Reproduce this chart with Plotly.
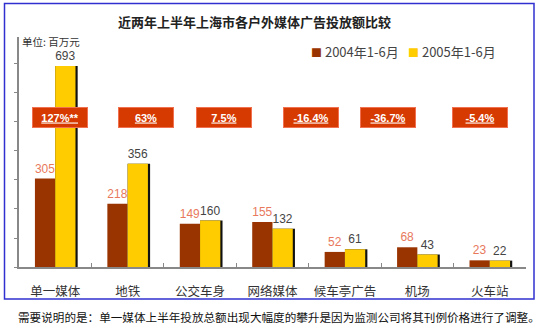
import plotly.graph_objects as go

categories = ["单一媒体", "地铁", "公交车身", "网络媒体", "候车亭广告", "机场", "火车站"]
series_names = ["2004年1-6月", "2005年1-6月"]
values_2004 = [305, 218, 149, 155, 52, 68, 23]
values_2005 = [693, 356, 160, 132, 61, 43, 22]
change_labels = ["127%**", "63%", "7.5%", "-16.4%", "-36.7%", "-5.4%"]
change_pos = [0.06, 1.25, 2.33, 3.53, 4.60, 5.87]

title = "近两年上半年上海市各户外媒体广告投放额比较"
unit = "单位: 百万元"
note = "需要说明的是：单一媒体上半年投放总额出现大幅度的攀升是因为监测公司将其刊例价格进行了调整。"

W, H = 547, 328
L, R, T, B = 19, 21, 37, 61
PW, PH = W - L - R, H - T - B
FONT = "Noto Sans CJK SC"
C04, C05 = "#993300", "#FFCC00"

def px(x):
    return (x - L) / PW

def py(y):
    return (H - B - y) / PH

fig = go.Figure()
fig.add_bar(x=categories, y=values_2004, offset=-0.28, width=0.28,
            marker=dict(color=C04, line=dict(width=0)),
            text=values_2004, textposition="outside", cliponaxis=False,
            textfont=dict(color="#E8795C", size=12, family="Liberation Sans"),
            showlegend=False, hoverinfo="skip")
fig.add_bar(x=categories, y=values_2005, offset=0.0, width=0.31,
            marker=dict(color="#111111", line=dict(width=0)),
            showlegend=False, hoverinfo="skip")
fig.add_bar(x=categories, y=values_2005, offset=0.0, width=0.28,
            marker=dict(color=C05, line=dict(width=0)),
            text=values_2005, textposition="outside", cliponaxis=False,
            textfont=dict(color="#444444", size=12, family="Liberation Sans"),
            showlegend=False, hoverinfo="skip")

annotations = []
for lab, pos in zip(change_labels, change_pos):
    annotations.append(dict(x=pos, y=py(118), xref="x", yref="paper",
                            text="<b><u>%s</u></b>" % lab, showarrow=False,
                            font=dict(color="white", size=11, family="Liberation Sans"),
                            bgcolor="#D63A00", width=52, height=17,
                            bordercolor="#F07050", borderwidth=1,
                            xanchor="center", yanchor="middle"))

annotations += [
    dict(x=px(254), y=py(22), xref="paper", yref="paper", text="<b>%s</b>" % title,
         showarrow=False, font=dict(size=13, color="#222222", family=FONT),
         xanchor="center", yanchor="middle"),
    dict(x=px(20), y=py(41), xref="paper", yref="paper", text=unit,
         showarrow=False, font=dict(size=10.5, color="#333333", family=FONT),
         xanchor="left", yanchor="middle"),
    dict(x=px(309), y=py(51), xref="paper", yref="paper",
         text="<span style='color:%s;font-size:11px'>■</span> %s" % (C04, series_names[0]),
         showarrow=False, font=dict(size=13, color="#444444", family=FONT),
         xanchor="left", yanchor="middle"),
    dict(x=px(406), y=py(51), xref="paper", yref="paper",
         text="<span style='color:%s;font-size:11px'>■</span> %s" % (C05, series_names[1]),
         showarrow=False, font=dict(size=13, color="#444444", family=FONT),
         xanchor="left", yanchor="middle"),
    dict(x=px(16), y=py(317), xref="paper", yref="paper", text=note,
         showarrow=False, font=dict(size=11.6, color="#111111", family=FONT),
         xanchor="left", yanchor="middle"),
]

fig.update_layout(
    width=W, height=H, margin=dict(l=L, r=R, t=T, b=B),
    paper_bgcolor="white", plot_bgcolor="white",
    barmode="overlay", annotations=annotations,
    shapes=[dict(type="rect", xref="paper", yref="paper",
                 x0=px(4.5), x1=px(534), y0=py(3.5), y1=py(299),
                 line=dict(color="#3030D0", width=1.5), layer="above")],
    xaxis=dict(type="category", range=[-0.5, 6.5], showline=True, linecolor="#888888",
               linewidth=1.5, ticks="inside", ticklen=4, tickcolor="#888888",
               tickson="boundaries", showgrid=False, zeroline=False,
               tickfont=dict(size=12.5, color="#333333", family=FONT), ticklabelstandoff=12),
    yaxis=dict(range=[0, 793], showline=True, linecolor="#888888", linewidth=1.5,
               ticks="outside", ticklen=3, tickcolor="#888888", tickvals=[0,100,200,300,400,500,600,700],
               showticklabels=False, showgrid=False, zeroline=False),
)

fig.write_html("out.html")
